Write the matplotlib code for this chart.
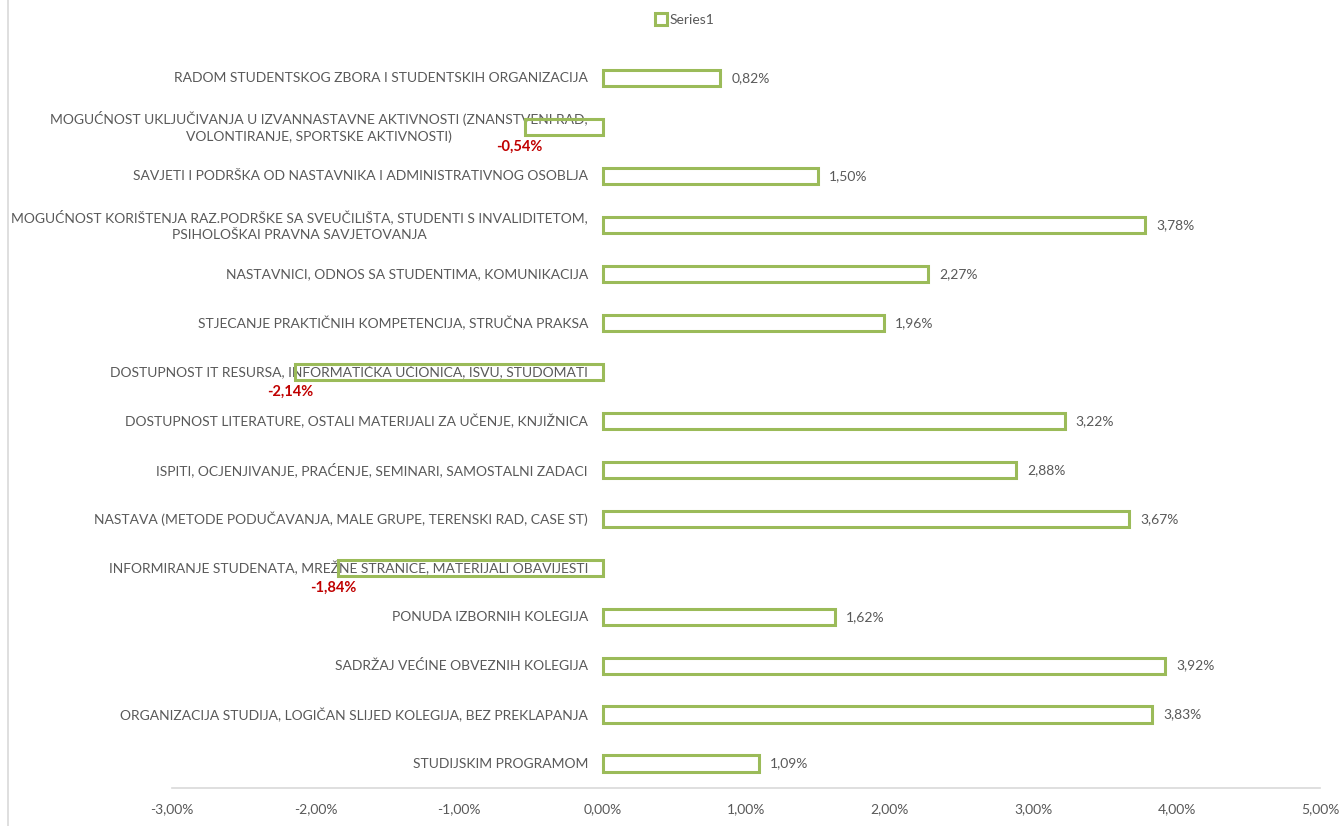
import numpy as np
import matplotlib
matplotlib.use("Agg")
from matplotlib import pyplot as plt
from matplotlib.lines import Line2D

plt.rcParams['font.family'] = ['Lato', 'DejaVu Sans']

# kategorije, od vrha prema dnu
categories = [
    "RADOM STUDENTSKOG ZBORA I STUDENTSKIH ORGANIZACIJA",
    "MOGUĆNOST UKLJUČIVANJA U IZVANNASTAVNE AKTIVNOSTI (ZNANSTVENI RAD,\nVOLONTIRANJE, SPORTSKE AKTIVNOSTI)",
    "SAVJETI I PODRŠKA OD NASTAVNIKA I ADMINISTRATIVNOG OSOBLJA",
    "MOGUĆNOST KORIŠTENJA RAZ.PODRŠKE SA SVEUČILIŠTA, STUDENTI S INVALIDITETOM,\nPSIHOLOŠKAI PRAVNA SAVJETOVANJA",
    "NASTAVNICI, ODNOS SA STUDENTIMA, KOMUNIKACIJA",
    "STJECANJE PRAKTIČNIH KOMPETENCIJA, STRUČNA PRAKSA",
    "DOSTUPNOST IT RESURSA, INFORMATIČKA UČIONICA, ISVU, STUDOMATI",
    "DOSTUPNOST LITERATURE, OSTALI MATERIJALI ZA UČENJE, KNJIŽNICA",
    "ISPITI, OCJENJIVANJE, PRAĆENJE, SEMINARI, SAMOSTALNI ZADACI",
    "NASTAVA (METODE PODUČAVANJA, MALE GRUPE, TERENSKI RAD, CASE ST)",
    "INFORMIRANJE STUDENATA, MREŽNE STRANICE, MATERIJALI OBAVIJESTI",
    "PONUDA IZBORNIH KOLEGIJA",
    "SADRŽAJ VEĆINE OBVEZNIH KOLEGIJA",
    "ORGANIZACIJA STUDIJA, LOGIČAN SLIJED KOLEGIJA, BEZ PREKLAPANJA",
    "STUDIJSKIM PROGRAMOM",
]
values = [0.82, -0.54, 1.50, 3.78, 2.27, 1.96, -2.14, 3.22, 2.88, 3.67,
          -1.84, 1.62, 3.92, 3.83, 1.09]
xticks = [-3, -2, -1, 0, 1, 2, 3, 4, 5]

green = "#9BBB59"
grey = "#595959"
red = "#C00000"


def pct(v):
    return ("%.2f%%" % v).replace(".", ",")


fig = plt.figure(figsize=(13.43, 8.26), dpi=100)
ax = fig.add_axes([0.128, 0.046, 0.855, 0.889])

n = len(categories)
y = np.arange(n)[::-1]
ax.barh(y, values, height=0.33, facecolor="none", edgecolor=green,
        linewidth=2.2, zorder=3)

# nazivi kategorija uz nultu os
for yi, cat in zip(y, categories):
    ax.annotate(cat, (0, yi), xytext=(-10.5, 0), textcoords="offset points",
                ha="right", va="center", color=grey, fontsize=10,
                multialignment="center", linespacing=1.45, zorder=2)

for yi, v in zip(y, values):
    if v >= 0:
        ax.annotate(pct(v), (v, yi), xytext=(8, 0), textcoords="offset points",
                    ha="left", va="center", color=grey, fontsize=10)
    else:
        ax.annotate(pct(v), (v, yi), xytext=(-4, -14.5), textcoords="offset points",
                    ha="center", va="center", color=red, fontsize=10.5,
                    fontweight="bold")

ax.set_xlim(-3, 5)
ax.set_ylim(-0.5, n - 0.5)
ax.set_xticks(xticks)
ax.set_xticklabels([pct(t) for t in xticks], color=grey, fontsize=10)
ax.set_yticks([])
ax.tick_params(axis="both", length=0)
ax.tick_params(axis="x", pad=11)

for s in ["top", "right", "left"]:
    ax.spines[s].set_visible(False)
ax.spines["bottom"].set_color("#D9D9D9")
ax.spines["bottom"].set_linewidth(1.2)

handle = Line2D([], [], marker="s", linestyle="none", markersize=8,
                markerfacecolor="white", markeredgecolor=green, markeredgewidth=2.2)
fig.legend([handle], ["Series1"], loc="center", bbox_to_anchor=(0.51, 0.976),
           frameon=False, fontsize=10, labelcolor=grey, handletextpad=0.2,
           handlelength=0.8)

fig.add_artist(Line2D([0.006, 0.006], [0, 1], color="#D9D9D9", linewidth=1.2))

fig.savefig("out.png", dpi=100)
